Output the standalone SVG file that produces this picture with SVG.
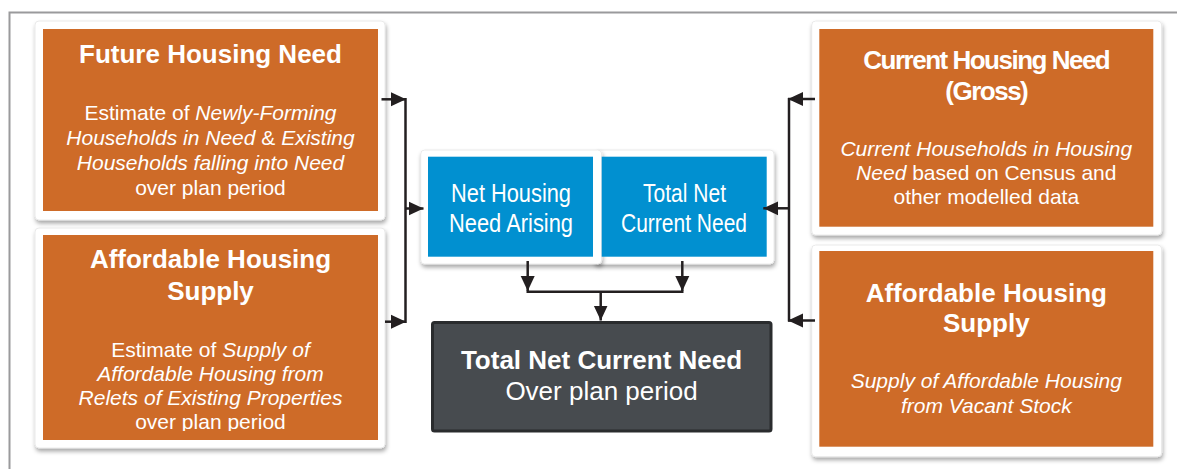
<svg xmlns="http://www.w3.org/2000/svg" width="1177" height="469" viewBox="0 0 1177 469">
<style>
  .card { fill: #ffffff; stroke: #e4e4e4; stroke-width: 0.8; filter: url(#sh); }
  .orange { fill: #ce6b28; }
  .blue { fill: #0190d0; }
  .t { font-family: "Liberation Sans", Arial, sans-serif; fill: #ffffff; text-anchor: middle; }
  .title { font-size: 26px; font-weight: bold; }
  .body { font-size: 21px; }
  .it { font-style: italic; }
  .blt { font-size: 26px; }
  .conn { stroke: #231f20; stroke-width: 2.5; fill: none; }
</style>
<defs>
  <filter id="sh" x="-10%" y="-10%" width="120%" height="125%">
    <feDropShadow dx="1" dy="3" stdDeviation="2.2" flood-color="#000000" flood-opacity="0.35"/>
  </filter>
  <marker id="ah" markerUnits="userSpaceOnUse" markerWidth="16" markerHeight="16" viewBox="0 0 16 16" refX="15" refY="8" orient="auto">
    <path d="M0,1 L15,8 L0,15 Z" fill="#231f20"/>
  </marker>
  <clipPath id="clipL2"><rect x="43" y="235" width="335" height="196"/></clipPath>
</defs>
<rect x="0" y="0" width="1177" height="469" fill="#ffffff"/>
<path d="M9.5,469 L9.5,12.5 L1177,12.5" fill="none" stroke="#9a9a9c" stroke-width="2"/>

<g id="node-future-housing-need">
  <rect class="card" x="35" y="21" width="350" height="199" rx="4"/>
  <rect class="orange" x="43" y="29" width="335" height="182"/>
  <text class="t title" x="210.5" y="63">Future Housing Need</text>
  <text class="t body" x="210.5" y="120">Estimate of <tspan class="it">Newly-Forming</tspan></text>
  <text class="t body" x="210.5" y="145"><tspan class="it">Households in Need</tspan> &amp; <tspan class="it">Existing</tspan></text>
  <text class="t body it" x="210.5" y="169.5">Households falling into Need</text>
  <text class="t body" x="210.5" y="194.5">over plan period</text>
</g>

<g id="node-affordable-supply-left">
  <rect class="card" x="35" y="228" width="350" height="220" rx="4"/>
  <rect class="orange" x="43" y="235" width="335" height="205"/>
  <text class="t title" x="210.5" y="268.3">Affordable Housing</text>
  <text class="t title" x="210.5" y="300">Supply</text>
  <g clip-path="url(#clipL2)">
    <text class="t body" x="210.5" y="356.7">Estimate of <tspan class="it">Supply of</tspan></text>
    <text class="t body it" x="210.5" y="381">Affordable Housing from</text>
    <text class="t body it" x="210.5" y="405">Relets of Existing Properties</text>
    <text class="t body" x="210.5" y="429">over plan period</text>
  </g>
</g>

<g id="node-total-net-current-need-blue">
  <rect class="card" x="594" y="150" width="180" height="114" rx="4"/>
</g>
<g id="node-net-housing-need-arising">
  <rect class="card" x="420.7" y="150" width="181" height="114" rx="4"/>
  <rect class="blue" x="428" y="156.7" width="165" height="100"/>
  <text class="t blt" x="511" y="201.7" textLength="120" lengthAdjust="spacingAndGlyphs">Net Housing</text>
  <text class="t blt" x="511" y="231.7" textLength="124" lengthAdjust="spacingAndGlyphs">Need Arising</text>
</g>
<g id="node-total-net-current-need">
  <rect class="blue" x="601.7" y="156.7" width="165" height="100"/>
  <text class="t blt" x="684.5" y="201.7" textLength="83" lengthAdjust="spacingAndGlyphs">Total Net</text>
  <text class="t blt" x="684" y="231.7" textLength="126" lengthAdjust="spacingAndGlyphs">Current Need</text>
</g>

<g id="node-total-net-current-need-result">
  <rect x="432.5" y="322.5" width="338.5" height="108.5" rx="2" fill="#474b4f" stroke="#2a2c2e" stroke-width="3"/>
  <text class="t title" x="601.5" y="369.3">Total Net Current Need</text>
  <text class="t" x="601.5" y="400" font-size="26">Over plan period</text>
</g>

<g id="node-current-housing-need-gross">
  <rect class="card" x="811.7" y="21" width="350" height="214" rx="4"/>
  <rect class="orange" x="819.3" y="29" width="334" height="197.7"/>
  <text class="t title" x="986.3" y="69" letter-spacing="-1.5">Current Housing Need</text>
  <text class="t title" x="986.3" y="100" letter-spacing="-1.5">(Gross)</text>
  <text class="t body it" x="986.3" y="156">Current Households in Housing</text>
  <text class="t body" x="986.3" y="180"><tspan class="it">Need</tspan> based on Census and</text>
  <text class="t body" x="986.3" y="204">other modelled data</text>
</g>

<g id="node-affordable-supply-right">
  <rect class="card" x="811.7" y="245" width="350" height="211.7" rx="4"/>
  <rect class="orange" x="819.3" y="251" width="334" height="195.7"/>
  <text class="t title" x="986.3" y="301.7">Affordable Housing</text>
  <text class="t title" x="986.3" y="331.7">Supply</text>
  <text class="t body it" x="986.3" y="388.3">Supply of Affordable Housing</text>
  <text class="t body it" x="986.3" y="413.3">from Vacant Stock</text>
</g>

<g id="connectors">
  <line class="conn" x1="405.5" y1="98" x2="405.5" y2="323"/>
  <line class="conn" x1="381.5" y1="99.3" x2="406" y2="99.3" marker-end="url(#ah)"/>
  <line class="conn" x1="385" y1="321.7" x2="406" y2="321.7" marker-end="url(#ah)"/>
  <line class="conn" x1="405.5" y1="208.5" x2="423.5" y2="208.5" marker-end="url(#ah)"/>

  <line class="conn" x1="789" y1="98" x2="789" y2="321.5"/>
  <line class="conn" x1="815" y1="99" x2="788" y2="99" marker-end="url(#ah)"/>
  <line class="conn" x1="815" y1="320.5" x2="788" y2="320.5" marker-end="url(#ah)"/>
  <line class="conn" x1="789" y1="208.3" x2="763.3" y2="208.3" marker-end="url(#ah)"/>

  <line class="conn" x1="527.7" y1="261" x2="527.7" y2="291" marker-end="url(#ah)"/>
  <line class="conn" x1="682.3" y1="261" x2="682.3" y2="291" marker-end="url(#ah)"/>
  <line class="conn" x1="526.5" y1="291.7" x2="683.5" y2="291.7"/>
  <line class="conn" x1="600.7" y1="291.7" x2="600.7" y2="320.5" marker-end="url(#ah)"/>
</g>
</svg>
